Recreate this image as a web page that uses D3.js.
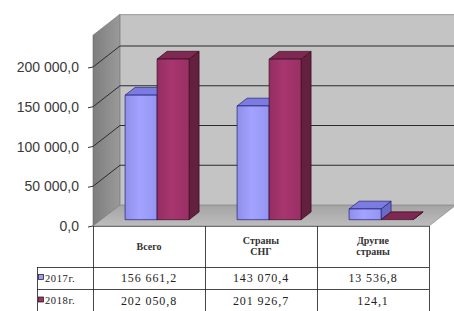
<!DOCTYPE html>
<html>
<head>
  <meta charset="utf-8">
  <title>Экспорт 2017-2018</title>
  <style>
    body { margin: 0; background: #fff; }
    svg text { font-family: "Liberation Serif", "Times New Roman", serif; fill: #222; }
    svg text.ytick { font-family: "Liberation Sans", Arial, sans-serif; fill: #3a3a3a; }
  </style>
</head>
<body>
  <div id="chart"></div>

  <script src="https://cdn.jsdelivr.net/npm/d3@7/dist/d3.min.js"></script>
  <script type="text/javascript">

  // data
  var categories = ['Всего', 'Страны СНГ', 'Другие страны'];
  var categoryLines = [['Всего'], ['Страны', 'СНГ'], ['Другие', 'страны']];
  var series = ['2017г.', '2018г.'];
  var values2017 = [156661.2, 143070.4, 13536.8];
  var values2018 = [202050.8, 201926.7, 124.1];
  var valueLabels2017 = ['156 661,2', '143 070,4', '13 536,8'];
  var valueLabels2018 = ['202 050,8', '201 926,7', '124,1'];
  var yTicks = [0, 50000, 100000, 150000, 200000];
  var yTickLabels = ['0,0', '50 000,0', '100 000,0', '150 000,0', '200 000,0'];

  var width = 454, height = 311;
  var depthX = 27, depthY = 21;       // full wall depth
  var barFront = 0.3, barDepth = 0.37; // bar position inside the depth

  var colors = {
    '2017г.': {front: '#9c9cff', top: '#7c7ce0', side: '#6a6ac8', line: '#20207a'},
    '2018г.': {front: '#a1336a', top: '#7e2852', side: '#63203f', line: '#3a0a22'}
  };

  var svg = d3.select('#chart').append('svg')
      .attr('width', width)
      .attr('height', height);

  var x = d3.scaleBand().domain(categories).range([93, 429]);
  var inner = d3.scaleBand().domain(series).range([0, x.bandwidth()]).paddingOuter(0.75);
  var y = d3.scaleLinear().domain([0, 240000]).range([226, 35.2]);

  function P(px, py, f) { return [px + f*depthX, py - f*depthY]; }
  function poly(pts) { return pts.map(function(p){ return p.join(','); }).join(' '); }

  var defs = svg.append('defs');
  var g1 = defs.append('linearGradient').attr('id', 'sidewall').attr('x1', 0).attr('x2', 1);
  g1.append('stop').attr('offset', 0).attr('stop-color', '#7e7e7e');
  g1.append('stop').attr('offset', 1).attr('stop-color', '#9a9a9a');
  var g2 = defs.append('linearGradient').attr('id', 'floor').attr('x1', 0).attr('y1', 1).attr('x2', 0).attr('y2', 0);
  g2.append('stop').attr('offset', 0).attr('stop-color', '#bdbdbd');
  g2.append('stop').attr('offset', 1).attr('stop-color', '#a4a4a4');
  series.forEach(function(s, i){
    var g = defs.append('linearGradient').attr('id', 'front' + i).attr('x1', 0).attr('x2', 1);
    var c = d3.color(colors[s].front);
    g.append('stop').attr('offset', 0).attr('stop-color', c.darker(0.25));
    g.append('stop').attr('offset', 0.45).attr('stop-color', c.brighter(0.12));
    g.append('stop').attr('offset', 1).attr('stop-color', c.darker(0.15));
  });

  var x0 = x.range()[0], x1 = x.range()[1], yTop = y.range()[1], yBase = y(0);

  // walls
  svg.append('polygon')
      .attr('points', poly([P(x0, yTop, 1), [width + 10, yTop - depthY], [width + 10, yBase - depthY], P(x0, yBase, 1)]))
      .attr('fill', '#c4c4c4');
  svg.append('polygon')
      .attr('points', poly([[x0, yBase], [x0, yTop], P(x0, yTop, 1), P(x0, yBase, 1)]))
      .attr('fill', 'url(#sidewall)')
      .attr('stroke', '#6a6a6a').attr('stroke-width', 0.6);
  svg.append('polygon')
      .attr('points', poly([[x0, yBase], [x1, yBase], P(x1, yBase, 1), P(x0, yBase, 1)]))
      .attr('fill', 'url(#floor)')
      .attr('stroke', '#7a7a7a').attr('stroke-width', 0.6);

  // grid lines on walls
  var grid = svg.append('g').attr('stroke', '#2b2b2b').attr('stroke-width', 1).attr('fill', 'none');
  yTicks.slice(1).forEach(function(t){
    var a = P(x0, y(t), 1);
    grid.append('line').attr('x1', x0).attr('y1', y(t)).attr('x2', a[0]).attr('y2', a[1]);
    grid.append('line').attr('x1', a[0]).attr('y1', a[1]).attr('x2', width + 10).attr('y2', a[1]);
  });
  svg.append('line')
      .attr('x1', P(x0, yTop, 1)[0]).attr('y1', yTop - depthY + 0.5)
      .attr('x2', width).attr('y2', yTop - depthY + 0.5)
      .attr('stroke', '#9a9a9a');

  // y axis ticks and labels
  var yAxis = svg.append('g');
  yTicks.forEach(function(t, i){
    yAxis.append('line')
        .attr('x1', x0 - 5).attr('y1', y(t) + 1).attr('x2', x0).attr('y2', y(t))
        .attr('stroke', '#333');
    yAxis.append('text').attr('class', 'ytick')
        .attr('x', 79).attr('y', y(t) + 5)
        .attr('text-anchor', 'end')
        .style('font-size', '14px')
        .text(yTickLabels[i]);
  });

  // bars
  var rows = [values2017, values2018];
  var bars = svg.append('g');
  categories.forEach(function(c, ci){
    series.forEach(function(s, si){
      var v = rows[si][ci];
      var bx = x(c) + inner(s), bw = inner.bandwidth();
      var col = colors[s];
      var fl = P(bx, y(v), barFront), fr = P(bx + bw, y(v), barFront);
      var bl = P(bx, y(v), barFront + barDepth), br = P(bx + bw, y(v), barFront + barDepth);
      var frb = P(bx + bw, yBase, barFront), brb = P(bx + bw, yBase, barFront + barDepth);
      var flb = P(bx, yBase, barFront);
      bars.append('polygon').attr('points', poly([fr, br, brb, frb]))
          .attr('fill', col.side).attr('stroke', col.line).attr('stroke-width', 0.7);
      bars.append('polygon').attr('points', poly([fl, fr, br, bl]))
          .attr('fill', col.top).attr('stroke', col.line).attr('stroke-width', 0.7);
      if (y(0) - y(v) > 0.5) {
        bars.append('polygon').attr('points', poly([fl, fr, frb, flb]))
            .attr('fill', 'url(#front' + si + ')').attr('stroke', col.line).attr('stroke-width', 0.7);
      }
    });
  });

  // data table
  var rowY = [yBase, 267, 289, 312];
  var table = svg.append('g').attr('stroke', '#1a1a1a').attr('stroke-width', 0.8).attr('fill', 'none');
  table.append('line').attr('x1', x0).attr('y1', yBase + 0.5).attr('x2', x1).attr('y2', yBase + 0.5).attr('stroke', '#555');
  [rowY[1], rowY[2], rowY[3]].forEach(function(ry){
    table.append('line').attr('x1', 37).attr('y1', ry + 0.5).attr('x2', x1).attr('y2', ry + 0.5);
  });
  table.append('line').attr('x1', 37.5).attr('y1', rowY[1]).attr('x2', 37.5).attr('y2', rowY[3]);
  categories.forEach(function(c){
    table.append('line').attr('x1', x(c) + 0.5).attr('y1', yBase).attr('x2', x(c) + 0.5).attr('y2', rowY[3]);
  });
  table.append('line').attr('x1', x1 + 0.5).attr('y1', yBase).attr('x2', x1 + 0.5).attr('y2', rowY[3]);

  categories.forEach(function(c, ci){
    var lines = categoryLines[ci];
    var cy = (rowY[0] + rowY[1]) / 2 + 3;
    lines.forEach(function(l, li){
      svg.append('text')
          .attr('x', x(c) + x.bandwidth()/2)
          .attr('y', cy + (li - (lines.length - 1)/2) * 10.5)
          .attr('text-anchor', 'middle')
          .style('font-size', '10px')
          .style('font-weight', 'bold')
          .style('fill', '#333')
          .text(l);
    });
  });

  var labelRows = [valueLabels2017, valueLabels2018];
  series.forEach(function(s, si){
    var cy = (rowY[si + 1] + rowY[si + 2]) / 2;
    svg.append('rect')
        .attr('x', 38.5).attr('y', cy - 3.5).attr('width', 5).attr('height', 5)
        .attr('fill', colors[s].front).attr('stroke', '#111').attr('stroke-width', 0.7);
    svg.append('text')
        .attr('x', 45).attr('y', cy + 3.5)
        .style('font-size', '10.5px')
        .style('letter-spacing', '0.6px')
        .text(s);
    categories.forEach(function(c, ci){
      svg.append('text')
          .attr('x', x(c) + x.bandwidth()/2)
          .attr('y', cy + 4)
          .attr('text-anchor', 'middle')
          .style('font-size', '12px')
          .style('letter-spacing', '0.9px')
          .text(labelRows[si][ci]);
    });
  });

  </script>
</body>
</html>
